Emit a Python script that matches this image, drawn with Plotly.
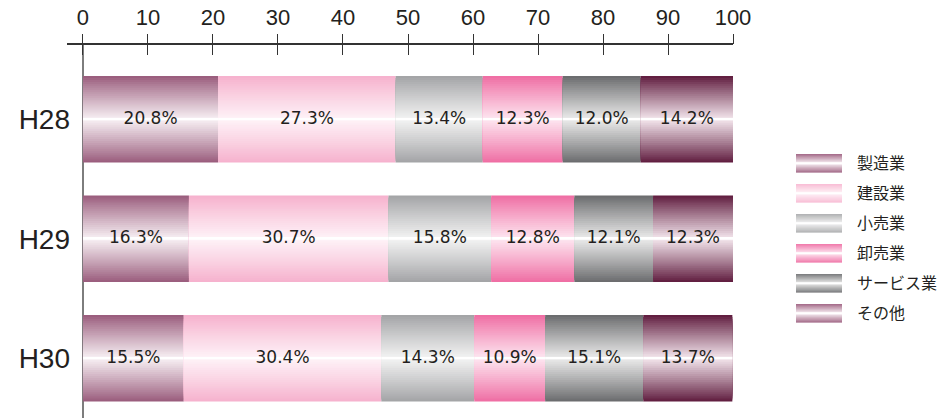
import plotly.graph_objects as go

# ---------------- data ----------------
categories = ["H28", "H29", "H30"]
series_names = ["製造業", "建設業", "小売業", "卸売業", "サービス業", "その他"]
manufacturing = [20.8, 16.3, 15.5]
construction = [27.3, 30.7, 30.4]
retail = [13.4, 15.8, 14.3]
wholesale = [12.3, 12.8, 10.9]
services = [12.0, 12.1, 15.1]
others = [14.2, 12.3, 13.7]
x_ticks = [0, 10, 20, 30, 40, 50, 60, 70, 80, 90, 100]

series_values = [manufacturing, construction, retail, wholesale, services, others]

# ---------------- style ----------------
edge_colors = ["#9b5e7e", "#f6b2ce", "#a4a5a7", "#ef6fa4", "#6c6d6f", "#621f41"]
mid_colors = ["#f6eef2", "#fef2f7", "#f2f2f2", "#fde4ef", "#e9e9e9", "#f1e3ea"]
legend_edge_colors = ["#a46a88", "#f8bdd5", "#b0b1b3", "#f07aab", "#7a7b7d", "#a46a88"]
legend_mid_colors = ["#f6eef2", "#fef2f7", "#f2f2f2", "#fde4ef", "#e9e9e9", "#f6eef2"]
N_LAYERS = 22
BAR_W = 0.725
LEG_W = 0.62
TEXT_COLOR = "#231f20"


def hex2rgb(h):
    h = h.lstrip("#")
    return tuple(int(h[i:i + 2], 16) for i in (0, 2, 4))


def mix(c1, c2, t):
    a, b = hex2rgb(c1), hex2rgb(c2)
    return "rgb(%d,%d,%d)" % tuple(round(a[i] + (b[i] - a[i]) * t) for i in range(3))


fig = go.Figure()

y_pos = list(range(len(categories)))
cum = [0.0] * len(categories)

label_x, label_y, label_t = [], [], []

for s, (name, vals) in enumerate(zip(series_names, series_values)):
    base = list(cum)
    for k in range(N_LAYERS):
        t = k / (N_LAYERS - 1)
        fig.add_trace(go.Bar(
            orientation="h", y=y_pos, x=vals, base=base,
            width=BAR_W * (1 - k / N_LAYERS),
            marker=dict(color=mix(edge_colors[s], mid_colors[s], t ** 0.95), line=dict(width=0)),
            showlegend=False, hoverinfo="skip", xaxis="x", yaxis="y",
        ))
    # thin white highlight in the middle
    fig.add_trace(go.Bar(
        orientation="h", y=y_pos, x=vals, base=base, width=0.016,
        marker=dict(color="#ffffff", line=dict(width=0)),
        showlegend=False, hoverinfo="skip", xaxis="x", yaxis="y",
    ))
    for i, v in enumerate(vals):
        label_x.append(base[i] + v / 2)
        label_y.append(y_pos[i])
        label_t.append(f"{v:.1f}%")
        cum[i] += v

    # legend swatch (second subplot)
    for k in range(N_LAYERS):
        t = k / (N_LAYERS - 1)
        fig.add_trace(go.Bar(
            orientation="h", y=[s], x=[1], base=[0],
            width=LEG_W * (1 - k / N_LAYERS),
            marker=dict(color=mix(legend_edge_colors[s], legend_mid_colors[s], t ** 0.95),
                        line=dict(width=0)),
            showlegend=False, hoverinfo="skip", xaxis="x2", yaxis="y2",
        ))
    fig.add_trace(go.Bar(
        orientation="h", y=[s], x=[1], base=[0], width=0.06,
        marker=dict(color="#ffffff", line=dict(width=0)),
        showlegend=False, hoverinfo="skip", xaxis="x2", yaxis="y2",
    ))

fig.add_trace(go.Scatter(
    x=label_x, y=label_y, text=label_t, mode="text",
    textfont=dict(family="DejaVu Sans", size=17, color=TEXT_COLOR),
    showlegend=False, hoverinfo="skip", xaxis="x", yaxis="y",
))

# invisible trace to activate overlay axis x3
fig.add_trace(go.Scatter(x=[0], y=[0], mode="markers", marker=dict(opacity=0),
                         showlegend=False, hoverinfo="skip", xaxis="x3", yaxis="y"))

W, H = 945, 418
ML, MR, MT, MB = 67, 0, 45, 0
pw = W - ML - MR
main_right = (733 - ML) / pw
leg_l = (796 - ML) / pw
leg_r = (842 - ML) / pw
ph = H - MT - MB
leg_top = 1 - (148.3 - MT) / ph
leg_bot = 1 - (328.3 - MT) / ph

x_range = [-2.46, 100]

fig.update_layout(
    width=W, height=H,
    margin=dict(l=ML, r=MR, t=MT, b=MB, pad=0, autoexpand=False),
    barmode="overlay",
    plot_bgcolor="white", paper_bgcolor="white",
    font=dict(family="Liberation Sans, Arial", color=TEXT_COLOR),
    xaxis=dict(
        domain=[0, main_right], range=x_range, side="top", anchor="y",
        showline=True, linecolor="#333333", linewidth=1.5,
        ticks="inside", ticklen=10, tickwidth=1, tickcolor="#333333",
        tickvals=x_ticks, showticklabels=False,
        showgrid=False, zeroline=True, zerolinecolor="#7d7d7d", zerolinewidth=2,
        fixedrange=True, automargin=False,
    ),
    xaxis3=dict(
        overlaying="x", range=x_range, side="top", anchor="y",
        showline=False, ticks="outside", ticklen=10, tickwidth=1, tickcolor="#333333",
        tickvals=x_ticks, ticktext=[str(v) for v in x_ticks],
        tickfont=dict(family="Liberation Sans, Arial", size=22, color=TEXT_COLOR),
        showgrid=False, zeroline=False, fixedrange=True, automargin=False,
    ),
    yaxis=dict(
        domain=[0, 1], range=[2.5, -0.622], anchor="x",
        tickvals=y_pos, ticktext=categories, ticks="",
        tickfont=dict(family="Liberation Sans, Arial", size=28, color=TEXT_COLOR),
        ticklabelstandoff=-4,
        showline=False, showgrid=False, zeroline=False, fixedrange=True, automargin=False,
    ),
    xaxis2=dict(
        domain=[leg_l, leg_r], range=[0, 1], anchor="y2",
        visible=False, fixedrange=True, automargin=False,
    ),
    yaxis2=dict(
        domain=[leg_bot, leg_top], range=[5.5, -0.5], anchor="x2", side="right",
        tickvals=list(range(len(series_names))), ticktext=series_names, ticks="",
        tickfont=dict(family="Noto Sans CJK JP", size=16, color=TEXT_COLOR),
        ticklabelstandoff=14,
        showline=False, showgrid=False, zeroline=False, fixedrange=True, automargin=False,
    ),
)

fig.write_html(
    "out.html",
    config={"displayModeBar": False},
    post_script="document.body.style.margin='0';document.body.style.overflow='hidden';",
)
